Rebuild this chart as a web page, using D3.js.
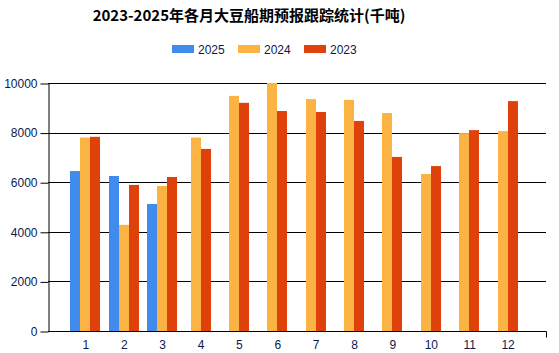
<!DOCTYPE html>
<html>
<head>
<meta charset="utf-8">
<script src="https://cdn.jsdelivr.net/npm/d3@7"></script>
<style>
  body { margin: 0; background: #fff; }
  svg { display: block; }
</style>
</head>
<body>
<script>

// chart data
var months = [1, 2, 3, 4, 5, 6, 7, 8, 9, 10, 11, 12];
var series_names = ["2025", "2024", "2023"];
var colours = ["#418bee", "#fbb443", "#df410b"];
var values_2025 = [6450, 6250, 5120, null, null, null, null, null, null, null, null, null];
var values_2024 = [7800, 4280, 5850, 7800, 9480, 10000, 9350, 9320, 8790, 6330, 7980, 8060];
var values_2023 = [7830, 5890, 6210, 7340, 9200, 8870, 8830, 8470, 7020, 6650, 8100, 9270];
var y_ticks = [0, 2000, 4000, 6000, 8000, 10000];

var all_values = [values_2025, values_2024, values_2023];

var width = 559, height = 353;
var margin = {top: 83, right: 13, bottom: 22, left: 48};

var svg = d3.select("body")
            .append("svg")
            .attr("width", width)
            .attr("height", height);

// x scale: months sit on integers, domain runs one step past both ends
var x_scale = d3.scaleLinear()
    .domain([0, 13])
    .range([margin.left - 1, width - margin.right]);

var y_scale = d3.scaleLinear()
    .domain([0, 10000])
    .range([height - margin.bottom, margin.top]);

var bar_width = 10;

// title
svg.append("text")
   .attr("x", 249)
   .attr("y", 21)
   .attr("text-anchor", "middle")
   .attr("font-family", "'Noto Sans CJK SC', sans-serif")
   .attr("font-weight", "bold")
   .attr("font-size", "15px")
   .attr("fill", "#000")
   .text("2023-2025年各月大豆船期预报跟踪统计(千吨)");

// legend
var legend = svg.selectAll(".legend")
   .data(series_names)
   .enter()
   .append("g")
   .attr("class", "legend")
   .attr("transform", function(d, i) {
     return "translate(" + (172 + i * 66) + ",45)";
   });

legend.append("rect")
   .attr("width", 22)
   .attr("height", 8)
   .attr("fill", function(d, i) { return colours[i]; });

legend.append("text")
   .attr("x", 26)
   .attr("y", 8.5)
   .attr("font-family", "'Liberation Sans', Arial, sans-serif")
   .attr("font-size", "12px")
   .attr("fill", "#0a1a50")
   .text(function(d) { return d; });

// grid lines
svg.append("g")
   .selectAll("line")
   .data(y_ticks.slice(1))
   .enter()
   .append("line")
   .attr("x1", margin.left)
   .attr("x2", width - margin.right)
   .attr("y1", function(d) { return Math.round(y_scale(d)) + 0.5; })
   .attr("y2", function(d) { return Math.round(y_scale(d)) + 0.5; })
   .attr("stroke", "#000")
   .attr("stroke-width", 1);

// bars, grouped per month, missing series are left out of the group
var bars = [];
months.forEach(function(m, i) {
  var present = [];
  all_values.forEach(function(s, j) {
    if (s[i] != null) present.push({month: m, value: s[i], series: j});
  });
  present.forEach(function(p, k) {
    p.offset = (k - present.length / 2) * bar_width;
    bars.push(p);
  });
});

svg.append("g")
   .selectAll("rect")
   .data(bars)
   .enter()
   .append("rect")
   .attr("x", function(d) { return Math.round(x_scale(d.month) + d.offset); })
   .attr("y", function(d) { return y_scale(d.value); })
   .attr("width", bar_width)
   .attr("height", function(d) { return y_scale(0) - y_scale(d.value); })
   .attr("fill", function(d) { return colours[d.series]; });

// y axis
var y_axis = d3.axisLeft(y_scale)
   .tickValues(y_ticks)
   .tickSize(8)
   .tickSizeOuter(0)
   .tickFormat(d3.format("d"));

var y_g = svg.append("g")
   .attr("transform", "translate(" + (margin.left + 0.5) + ",0.5)")
   .call(y_axis);

y_g.selectAll("text")
   .attr("font-family", "'Liberation Sans', Arial, sans-serif")
   .attr("font-size", "12px")
   .attr("fill", "#0a1a50")
   .attr("x", -11);

// x axis
var x_axis = d3.axisBottom(x_scale)
   .tickValues(months)
   .tickSize(0)
   .tickSizeOuter(6)
   .tickPadding(9);

var x_g = svg.append("g")
   .attr("transform", "translate(0," + (Math.round(y_scale(0)) + 0.5) + ")")
   .call(x_axis);

x_g.select(".domain")
   .attr("d", "M" + margin.left + ",0H" + (width - margin.right + 0.5) + "V6");

x_g.selectAll("text")
   .attr("font-family", "'Liberation Sans', Arial, sans-serif")
   .attr("font-size", "12px")
   .attr("fill", "#0a1a50");

svg.selectAll(".domain").attr("stroke", "#000");
svg.selectAll(".tick line").attr("stroke", "#000");

</script>
</body>
</html>
